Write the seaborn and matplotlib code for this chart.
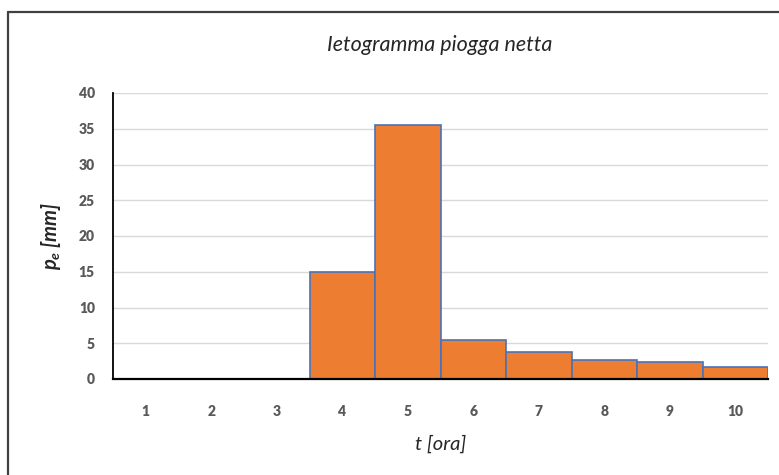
import matplotlib
matplotlib.use("Agg")
import matplotlib.pyplot as plt
import seaborn as sns
import pandas as pd
from matplotlib.lines import Line2D

hours = ["1", "2", "3", "4", "5", "6", "7", "8", "9", "10"]
pe_mm = [0, 0, 0, 15.0, 35.5, 5.5, 3.8, 2.6, 2.4, 1.7]
yticks = [0, 5, 10, 15, 20, 25, 30, 35, 40]

sns.set_theme(style="white")
plt.rcParams["font.family"] = ["Lato", "DejaVu Sans"]
plt.rcParams["mathtext.fontset"] = "custom"
plt.rcParams["mathtext.it"] = "Lato:italic:bold"
plt.rcParams["mathtext.rm"] = "Lato:bold"

df = pd.DataFrame({"t": hours, "pe": pe_mm})

W, H = 779, 475
fig = plt.figure(figsize=(W / 100, H / 100), dpi=100)
fig.patch.set_facecolor("white")

# outer chart frame (cropped at right and bottom)
fig.add_artist(Line2D([8 / W, 8 / W], [0, 1 - 12 / H], color="#404040", lw=1.6, transform=fig.transFigure))
fig.add_artist(Line2D([8 / W, 1], [1 - 12 / H, 1 - 12 / H], color="#404040", lw=1.6, transform=fig.transFigure))

left, right, top, bottom = 113, 768, 93, 379
ax = fig.add_axes([left / W, 1 - bottom / H, (right - left) / W, (bottom - top) / H])

sns.barplot(data=df, x="t", y="pe", ax=ax, width=1.0, color="#ED7D31",
            edgecolor="#4A72B8", linewidth=1.2, saturation=1, zorder=3)

ax.set_ylim(0, 40)
ax.set_yticks(yticks)
ax.set_xlim(-0.5, 9.5)
ax.yaxis.grid(True, color="#D9D9D9", linewidth=1.0, zorder=0)
ax.xaxis.grid(False)
for s in ["top", "right"]:
    ax.spines[s].set_visible(False)
ax.spines["left"].set_color("#000000")
ax.spines["bottom"].set_color("#000000")
ax.spines["left"].set_linewidth(1.3)
ax.spines["bottom"].set_linewidth(1.6)
ax.spines["left"].set_zorder(5)
ax.spines["bottom"].set_zorder(5)
ax.tick_params(axis="both", length=0, labelsize=10, labelcolor="#595959")
ax.tick_params(axis="y", pad=13)
ax.tick_params(axis="x", pad=19)
for lab in ax.get_xticklabels() + ax.get_yticklabels():
    lab.set_fontweight("heavy")

ax.set_xlabel("t [ora]", fontsize=14.5, fontstyle="italic", color="#262626", labelpad=12)
ax.set_ylabel(r"$p_e$ [mm]", fontsize=14.5, fontstyle="italic", fontweight="bold", color="#262626", labelpad=11)

fig.text(440 / W, 1 - 45 / H, "Ietogramma piogga netta",
         ha="center", va="center", fontsize=15.5, fontstyle="italic", color="#262626")

fig.savefig("out.png", dpi=100, facecolor="white")
